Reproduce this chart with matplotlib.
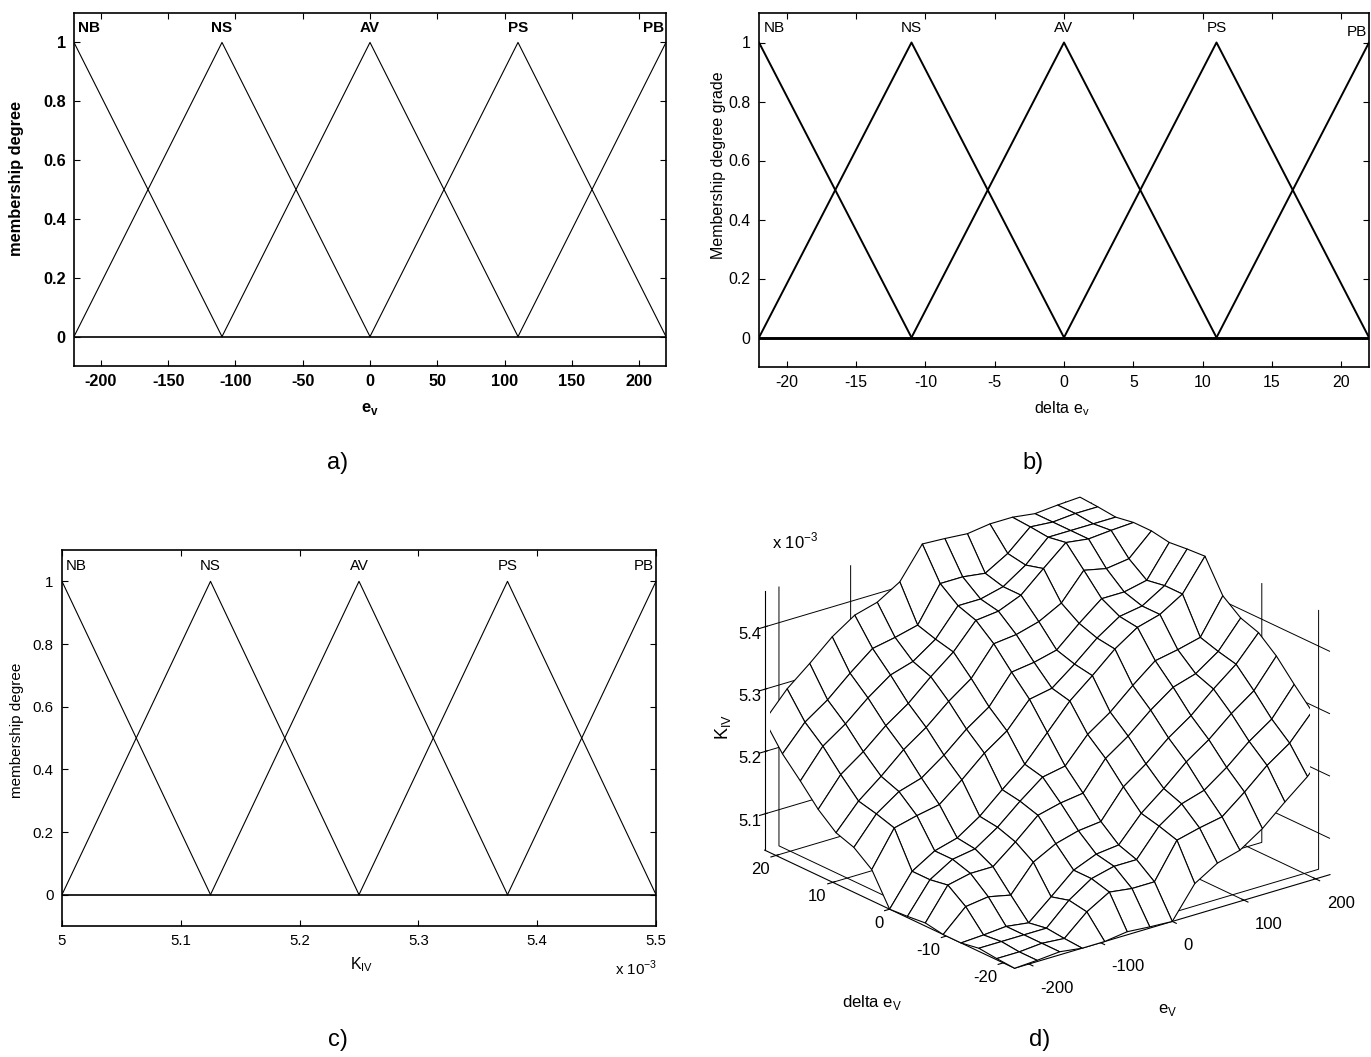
import numpy as np
import matplotlib
matplotlib.use('Agg')
import matplotlib.pyplot as plt

# ---------------- data ----------------
mf_names = ['NB', 'NS', 'AV', 'PS', 'PB']
ev_centers = [-220, -110, 0, 110, 220]            # panel a (e_v)
dev_centers = [-22, -11, 0, 11, 22]               # panel b (delta e_v)
kiv_centers = [5.0, 5.125, 5.25, 5.375, 5.5]      # panel c (K_IV, x 1e-3)

ev_ticks = [-200, -150, -100, -50, 0, 50, 100, 150, 200]
dev_ticks = [-20, -15, -10, -5, 0, 5, 10, 15, 20]
kiv_ticks = [5.0, 5.1, 5.2, 5.3, 5.4, 5.5]
kiv_ticklabels = ['5', '5.1', '5.2', '5.3', '5.4', '5.5']
mu_ticks = [0, 0.2, 0.4, 0.6, 0.8, 1]
mu_ticklabels = ['0', '0.2', '0.4', '0.6', '0.8', '1']

# panel d: control surface K_IV (x 1e-3), rows = delta e_v (-22..22), cols = e_v (-220..220)
surf_ev = [-220.0, -188.6, -157.1, -125.7, -94.3, -62.9, -31.4, 0.0,
           31.4, 62.9, 94.3, 125.7, 157.1, 188.6, 220.0]
surf_dev = [-22.0, -18.86, -15.71, -12.57, -9.43, -6.29, -3.14, 0.0,
            3.14, 6.29, 9.43, 12.57, 15.71, 18.86, 22.0]
surf_kiv = [
    [5.042, 5.044, 5.047, 5.042, 5.042, 5.047, 5.044, 5.042, 5.092, 5.114, 5.124, 5.148, 5.180, 5.210, 5.250],
    [5.044, 5.044, 5.047, 5.044, 5.076, 5.097, 5.092, 5.092, 5.148, 5.157, 5.164, 5.193, 5.225, 5.250, 5.290],
    [5.047, 5.047, 5.047, 5.047, 5.081, 5.105, 5.114, 5.114, 5.157, 5.182, 5.193, 5.219, 5.250, 5.275, 5.320],
    [5.042, 5.044, 5.047, 5.042, 5.073, 5.105, 5.120, 5.124, 5.164, 5.193, 5.225, 5.250, 5.281, 5.307, 5.352],
    [5.042, 5.076, 5.081, 5.073, 5.115, 5.134, 5.144, 5.148, 5.193, 5.219, 5.250, 5.275, 5.307, 5.336, 5.376],
    [5.047, 5.097, 5.105, 5.105, 5.134, 5.166, 5.175, 5.180, 5.225, 5.250, 5.281, 5.307, 5.318, 5.343, 5.386],
    [5.044, 5.092, 5.114, 5.120, 5.144, 5.175, 5.203, 5.210, 5.250, 5.275, 5.307, 5.336, 5.343, 5.352, 5.408],
    [5.042, 5.092, 5.114, 5.124, 5.148, 5.180, 5.210, 5.250, 5.290, 5.320, 5.352, 5.376, 5.386, 5.408, 5.458],
    [5.092, 5.148, 5.157, 5.164, 5.193, 5.225, 5.250, 5.290, 5.297, 5.325, 5.356, 5.380, 5.386, 5.408, 5.456],
    [5.114, 5.157, 5.182, 5.193, 5.219, 5.250, 5.275, 5.320, 5.325, 5.334, 5.366, 5.395, 5.395, 5.403, 5.453],
    [5.124, 5.164, 5.193, 5.225, 5.250, 5.281, 5.307, 5.352, 5.356, 5.366, 5.385, 5.427, 5.419, 5.424, 5.458],
    [5.148, 5.193, 5.219, 5.250, 5.275, 5.307, 5.336, 5.376, 5.380, 5.395, 5.427, 5.458, 5.453, 5.456, 5.458],
    [5.180, 5.225, 5.250, 5.281, 5.307, 5.318, 5.343, 5.386, 5.386, 5.395, 5.419, 5.453, 5.453, 5.453, 5.453],
    [5.210, 5.250, 5.275, 5.307, 5.336, 5.343, 5.352, 5.408, 5.408, 5.403, 5.424, 5.456, 5.453, 5.456, 5.456],
    [5.250, 5.290, 5.320, 5.352, 5.376, 5.386, 5.408, 5.458, 5.456, 5.453, 5.458, 5.458, 5.453, 5.456, 5.458],
]
surf_zticks = [5.1, 5.2, 5.3, 5.4]
surf_zticklabels = ['5.1', '5.2', '5.3', '5.4']
surf_ev_ticks = [-200, -100, 0, 100, 200]
surf_dev_ticks = [-20, -10, 0, 10, 20]

# ---------------- style ----------------
FONT = ['Liberation Sans', 'DejaVu Sans']
plt.rcParams['font.family'] = FONT
plt.rcParams['mathtext.fontset'] = 'custom'
plt.rcParams['mathtext.rm'] = 'Liberation Sans'
plt.rcParams['mathtext.bf'] = 'Liberation Sans:bold'

W, H = 1371, 1057
fig = plt.figure(figsize=(W / 100, H / 100), dpi=100)


def px_axes(left, right, top, bottom, **kw):
    return fig.add_axes([left / W, 1 - bottom / H, (right - left) / W, (bottom - top) / H], **kw)


def mf_panel(ax, centers, lw, weight, size, namesize, ticks, ticklabels, pb_dy=0.0):
    step = centers[1] - centers[0]
    for c in centers:
        ax.plot([c - step, c, c + step], [0, 1, 0], color='black', lw=lw)
    ax.axhline(0, color='black', lw=lw * 1.5)
    lo, hi = centers[0], centers[-1]
    ax.set_xlim(lo, hi)
    ax.set_ylim(-0.1, 1.1)
    ax.set_xticks(ticks)
    ax.set_xticklabels(ticklabels, fontweight=weight)
    ax.set_yticks(mu_ticks)
    ax.set_yticklabels(mu_ticklabels, fontweight=weight)
    ax.tick_params(direction='in', top=True, right=True, length=4, width=0.8,
                   labelsize=size, pad=6)
    for sp in ax.spines.values():
        sp.set_linewidth(1.2)
    span = hi - lo
    for i, (name, c) in enumerate(zip(mf_names, centers)):
        if i == 0:
            x, ha = lo + 0.007 * span, 'left'
        elif i == len(centers) - 1:
            x, ha = hi - 0.003 * span, 'right'
        else:
            x, ha = c, 'center'
        ax.text(x, 1.048 + (pb_dy if i == len(centers) - 1 else 0), name, ha=ha, va='center',
                fontsize=namesize, fontweight=weight)


# ---- panel a ----
axa = px_axes(74, 666, 13, 366)
mf_panel(axa, ev_centers, 0.8, 'bold', 11.7, 11, ev_ticks, [str(t) for t in ev_ticks])
fig.text(17 / W, 1 - 178 / H, 'membership degree', rotation=90, ha='center', va='center',
         fontsize=11.8, fontweight='bold')
fig.text(370 / W, 1 - 409 / H, r'e$_\mathregular{v}$', ha='center', va='center',
         fontsize=12, fontweight='bold')
fig.text(338 / W, 1 - 463 / H, 'a)', ha='center', va='center', fontsize=17)

# ---- panel b ----
axb = px_axes(759, 1369, 13, 367)
mf_panel(axb, dev_centers, 1.4, 'normal', 11.4, 11, dev_ticks, [str(t) for t in dev_ticks],
         pb_dy=-0.012)
fig.text(718 / W, 1 - 165 / H, 'Membership degree grade', rotation=90, ha='center', va='center',
         fontsize=11.5)
fig.text(1062 / W, 1 - 409 / H, r'delta e$_\mathregular{v}$', ha='center', va='center', fontsize=11.5)
fig.text(1033 / W, 1 - 463 / H, 'b)', ha='center', va='center', fontsize=17)

# ---- panel c ----
axc = px_axes(62, 656, 550, 926)
mf_panel(axc, kiv_centers, 0.8, 'normal', 10.8, 10.8, kiv_ticks, kiv_ticklabels)
fig.text(17 / W, 1 - 730 / H, 'membership degree', rotation=90, ha='center', va='center',
         fontsize=11)
fig.text(362 / W, 1 - 965 / H, r'K$_\mathregular{IV}$', ha='center', va='center', fontsize=11.5)
fig.text(657 / W, 1 - 968 / H, r'x 10$^\mathregular{-3}$', ha='right', va='center', fontsize=10.8)
fig.text(338 / W, 1 - 1040 / H, 'c)', ha='center', va='center', fontsize=17)

# ---- panel d ----
axd = px_axes(700, 1380, 470, 1010, projection='3d')
axd.set_proj_type('ortho')
axd.view_init(elev=22, azim=-128.4)
axd.set_box_aspect((1, 1, 0.695), zoom=1.14)
Xg, Yg = np.meshgrid(surf_ev, surf_dev)
Zg = np.array(surf_kiv)
axd.plot_surface(Xg, Yg, Zg, rstride=1, cstride=1, color='white', edgecolor='black',
                 linewidth=0.8, shade=False, antialiased=True)
axd.set_xlim(surf_ev[0], surf_ev[-1])
axd.set_ylim(surf_dev[0], surf_dev[-1])
axd.set_zlim(Zg.min(), Zg.max())
axd.set_xticks(surf_ev_ticks)
axd.set_xticklabels([str(t) for t in surf_ev_ticks])
axd.set_yticks(surf_dev_ticks)
axd.set_yticklabels([str(t) for t in surf_dev_ticks])
axd.set_zticks(surf_zticks)
axd.set_zticklabels(surf_zticklabels)
for axis in (axd.xaxis, axd.yaxis, axd.zaxis):
    axis.set_pane_color((1, 1, 1, 0))
    axis.pane.set_edgecolor('black')
    axis.pane.set_linewidth(0.8)
    axis._axinfo['grid'].update(color='black', linewidth=0.7)
    axis.line.set_color('black')
    axis.line.set_linewidth(0.8)
axd.tick_params(labelsize=12)
axd.xaxis.set_tick_params(pad=1)
axd.yaxis.set_tick_params(pad=-4)
axd.zaxis.set_tick_params(pad=-7)
for lab in axd.get_xticklabels():
    lab.set_ha('left')
for lab in axd.get_yticklabels():
    lab.set_ha('right')
for lab in axd.get_zticklabels():
    lab.set_ha('right')
fig.text(795 / W, 1 - 541 / H, r'x 10$^\mathregular{-3}$', ha='center', va='center', fontsize=12)
fig.text(723 / W, 1 - 727 / H, r'K$_\mathregular{IV}$', rotation=90, ha='center', va='center',
         fontsize=13)
fig.text(872 / W, 1 - 1002 / H, r'delta e$_\mathregular{V}$', ha='center', va='center', fontsize=12)
fig.text(1168 / W, 1 - 1010 / H, r'e$_\mathregular{V}$', ha='center', va='center', fontsize=12)
fig.text(1040 / W, 1 - 1040 / H, 'd)', ha='center', va='center', fontsize=17)

fig.savefig('out.png', dpi=100)
